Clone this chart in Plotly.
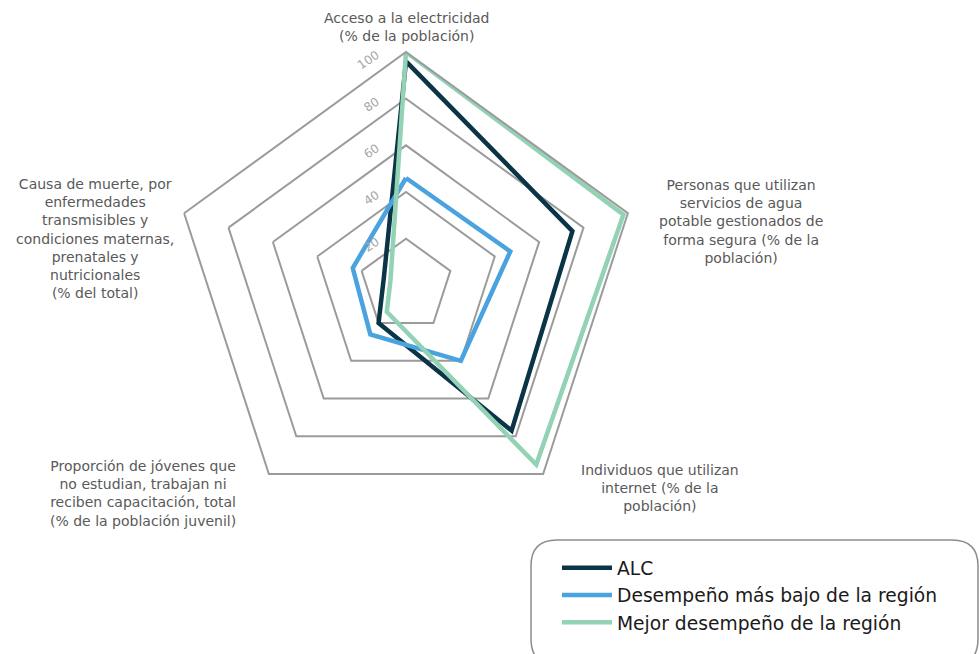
import plotly.graph_objects as go
import re

categories = [
    "Acceso a la electricidad<br>(% de la población)",
    "Personas que utilizan<br>servicios de agua<br>potable gestionados de<br>forma segura (% de la<br>población)",
    "Individuos que utilizan<br>internet (% de la<br>población)",
    "Proporción de jóvenes que<br>no estudian, trabajan ni<br>reciben capacitación, total<br>(% de la población juvenil)",
    "Causa de muerte, por<br>enfermedades<br>transmisibles y<br>condiciones maternas,<br>prenatales y<br>nutricionales<br>(% del total)",
]
series_names = ["ALC", "Desempeño más bajo de la región", "Mejor desempeño de la región"]
alc = [96, 75, 77, 20, 10]
lowest = [46, 47, 40, 26, 24]
best = [100, 98, 95, 14, 7]
radial_ticks = [20, 40, 60, 80, 100]

colors = ["#0c3447", "#4aa3df", "#93d2b4"]
FONT = "DejaVu Sans"
W, H = 979, 654
cx, cy, R = 406, 285.3, 233.3

fig = go.Figure()
keys = [f"c{i}" for i in range(len(categories))]
for name, vals, col in zip(series_names, [alc, lowest, best], colors):
    fig.add_trace(go.Scatterpolar(
        r=vals + vals[:1], theta=keys + keys[:1], mode="lines", name=name,
        line=dict(color=col, width=4.5), hoverinfo="skip"))

fig.update_layout(
    width=W, height=H, margin=dict(l=0, r=0, t=0, b=0),
    paper_bgcolor="white", plot_bgcolor="white",
    font=dict(family=FONT, color="#595959"),
    polar=dict(
        domain=dict(x=[(cx - R) / W, (cx + R) / W], y=[(H - cy - R) / H, (H - cy + R) / H]),
        gridshape="linear", bgcolor="white",
        angularaxis=dict(direction="clockwise", rotation=90, showticklabels=False,
                         showgrid=False, showline=True, linecolor="#9b9b9b", linewidth=2,
                         ticks="", categoryorder="array", categoryarray=keys),
        radialaxis=dict(range=[0, 100], tickvals=radial_ticks, showline=False,
                        gridcolor="#9b9b9b", gridwidth=2, angle=90,
                        ticks="outside", ticklen=18, tickcolor="rgba(0,0,0,0)",
                        tickangle=56, side="counterclockwise",
                        tickfont=dict(size=12, color="#a6a6a6", family=FONT)),
    ),
    legend=dict(x=557 / W, y=1 - 549 / H, xanchor="left", yanchor="top",
                font=dict(size=18.7, color="#1a1a1a", family=FONT), bgcolor="rgba(0,0,0,0)",
                tracegroupgap=0, itemwidth=50),
    showlegend=True,
)

label_pos = [(406, 27), (741, 222), (660, 488), (143, 494), (95, 238)]
for txt, (x, y) in zip(categories, label_pos):
    fig.add_annotation(x=x / W, y=1 - y / H, xref="paper", yref="paper", text=txt,
                       showarrow=False, align="center", xanchor="center", yanchor="middle",
                       font=dict(size=14, color="#595959", family=FONT))

# rounded legend frame
x0, x1, y0, y1, rr = 531, 978, 540, 665, 26
path = (f"M {x0+rr},{y0} L {x1-rr},{y0} Q {x1},{y0} {x1},{y0+rr} L {x1},{y1-rr} "
        f"Q {x1},{y1} {x1-rr},{y1} L {x0+rr},{y1} Q {x0},{y1} {x0},{y1-rr} "
        f"L {x0},{y0+rr} Q {x0},{y0} {x0+rr},{y0} Z")
def conv(m):
    px, py = float(m.group(1)), float(m.group(2))
    return f"{px / W:.5f},{1 - py / H:.5f}"
path = re.sub(r"([\d.]+),([\d.]+)", conv, path)
fig.add_shape(type="path", path=path, xref="paper", yref="paper",
              line=dict(color="#8c8c8c", width=1.5), layer="below")

fig.write_html("out.html")
